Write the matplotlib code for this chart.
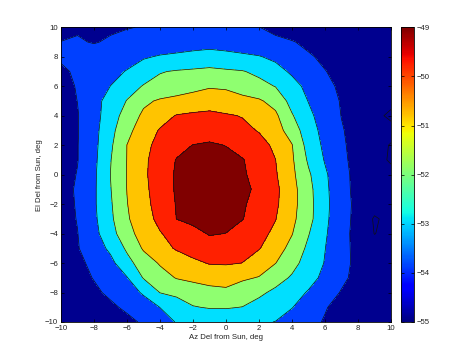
import numpy as np
import matplotlib
matplotlib.use("Agg")
import matplotlib.pyplot as plt
from matplotlib.colors import Normalize
import matplotlib.cm as cm

# Grid axes (degrees)
az = np.arange(-10, 11)
el = np.arange(-10, 11)

# Measured level (dB) on a 1-degree grid; rows listed from El=+10 down to El=-10,
# columns Az=-10 ... +10
rows_top_down = [
    [-54.40, -54.10, -54.50, -54.12, -54.03, -53.97, -53.93, -53.89, -53.84, -53.80, -53.86, -53.92, -53.98, -54.30, -54.70, -54.80, -54.80, -54.80, -54.80, -54.80, -54.80],  # el 10
    [-53.98, -53.92, -54.05, -53.90, -53.80, -53.70, -53.60, -53.55, -53.45, -53.40, -53.45, -53.55, -53.65, -53.75, -53.92, -54.28, -54.68, -54.80, -54.80, -54.80, -54.80],  # el 9
    [-53.85, -53.75, -53.60, -53.50, -53.35, -53.10, -52.92, -52.81, -52.70, -52.59, -52.71, -52.83, -52.95, -53.19, -53.53, -53.86, -54.24, -54.64, -54.80, -54.80, -54.80],  # el 8
    [-54.18, -53.84, -53.55, -53.26, -52.95, -52.50, -52.05, -51.93, -51.86, -51.79, -51.87, -51.95, -52.20, -52.68, -53.14, -53.55, -53.96, -54.36, -54.76, -54.80, -54.80],  # el 7
    [-54.34, -53.93, -53.47, -52.99, -52.41, -51.94, -51.73, -51.52, -51.31, -51.10, -51.14, -51.43, -51.72, -52.03, -52.68, -53.24, -53.73, -54.18, -54.58, -54.80, -54.80],  # el 6
    [-54.40, -53.99, -53.32, -52.64, -51.96, -51.19, -50.88, -50.72, -50.55, -50.39, -50.55, -50.72, -50.88, -51.33, -52.34, -53.03, -53.56, -54.07, -54.47, -54.80, -54.80],  # el 5
    [-54.45, -54.05, -53.34, -52.50, -51.57, -50.82, -50.36, -49.95, -49.85, -49.81, -49.91, -50.04, -50.43, -50.82, -51.92, -52.79, -53.44, -54.02, -54.42, -54.80, -55.15],  # el 4
    [-54.45, -54.05, -53.31, -52.29, -51.29, -50.47, -49.93, -49.73, -49.54, -49.35, -49.57, -49.80, -50.05, -50.59, -51.45, -52.58, -53.31, -53.93, -54.35, -54.75, -54.75],  # el 3
    [-54.43, -54.03, -53.27, -52.16, -50.99, -50.26, -49.72, -49.30, -48.98, -48.90, -49.02, -49.36, -49.71, -50.16, -50.96, -52.39, -53.20, -53.87, -54.32, -54.72, -55.05],  # el 2
    [-54.43, -54.03, -53.23, -52.04, -50.98, -50.20, -49.52, -48.96, -48.78, -48.60, -48.78, -48.95, -49.42, -49.99, -50.87, -52.14, -53.07, -53.81, -54.30, -54.70, -55.10],  # el 1
    [-54.38, -53.96, -53.17, -51.99, -50.96, -50.19, -49.44, -48.90, -48.65, -48.40, -48.64, -48.89, -49.31, -49.91, -50.78, -51.86, -52.85, -53.73, -54.27, -54.67, -54.75],  # el 0
    [-54.34, -53.89, -53.15, -52.04, -50.98, -50.25, -49.50, -48.90, -48.60, -48.30, -48.56, -48.81, -49.17, -49.79, -50.66, -51.71, -52.78, -53.70, -54.26, -54.66, -54.75],  # el -1
    [-54.36, -53.92, -53.14, -52.11, -51.03, -50.32, -49.59, -48.95, -48.67, -48.40, -48.65, -48.90, -49.32, -49.84, -50.67, -51.67, -52.75, -53.65, -54.23, -54.63, -54.75],  # el -2
    [-54.38, -53.96, -53.19, -52.19, -51.11, -50.42, -49.74, -48.99, -48.80, -48.60, -48.79, -48.97, -49.45, -49.97, -50.77, -51.69, -52.79, -53.68, -54.25, -55.10, -54.75],  # el -3
    [-54.42, -54.02, -53.28, -52.39, -51.33, -50.61, -50.06, -49.64, -49.24, -48.94, -49.01, -49.36, -49.73, -50.19, -50.96, -51.95, -52.88, -53.73, -54.27, -55.02, -54.75],  # el -4
    [-54.46, -54.06, -53.48, -52.81, -51.84, -50.89, -50.35, -49.91, -49.65, -49.39, -49.58, -49.77, -49.95, -50.54, -51.32, -52.20, -52.98, -53.72, -54.25, -54.65, -54.75],  # el -5
    [-54.62, -54.22, -53.77, -53.26, -52.33, -51.50, -50.91, -50.55, -50.18, -49.95, -49.90, -50.01, -50.49, -50.98, -51.70, -52.39, -53.05, -53.72, -54.23, -54.63, -54.75],  # el -6
    [-54.76, -54.36, -53.95, -53.50, -53.05, -51.94, -51.39, -50.95, -50.76, -50.58, -50.72, -50.87, -51.05, -51.63, -52.11, -52.67, -53.23, -53.81, -54.27, -54.67, -54.75],  # el -7
    [-54.80, -54.60, -54.20, -53.79, -53.38, -52.90, -51.98, -51.77, -51.56, -51.36, -51.15, -51.48, -51.82, -52.20, -52.63, -53.08, -53.58, -54.06, -54.46, -54.80, -54.80],  # el -8
    [-54.80, -54.80, -54.60, -54.20, -53.80, -53.40, -52.99, -52.52, -52.05, -51.94, -51.93, -52.02, -52.33, -52.65, -52.97, -53.44, -53.93, -54.34, -54.74, -54.80, -54.80],  # el -9
    [-54.80, -54.80, -54.80, -54.68, -54.28, -53.85, -53.35, -52.96, -52.81, -52.67, -52.66, -52.77, -52.89, -53.02, -53.37, -53.72, -54.08, -54.48, -54.80, -54.80, -54.80],  # el -10
]
Z = np.array(rows_top_down)[::-1]

line_levels = [-55, -54, -53, -52, -51, -50, -49]
fill_levels = [-60, -54, -53, -52, -51, -50, -49, -40]
band_colors = ['#00008F', '#0040FF', '#00DFFF', '#8FFF70', '#FFC400', '#FF2000', '#800000']
cbar_ticks = [-55, -54, -53, -52, -51, -50, -49]
xticks = list(range(-10, 11, 2))
yticks = list(range(-10, 11, 2))

plt.rcParams['font.family'] = ['Liberation Sans', 'DejaVu Sans']
FS = 5.6
TXT = '#222222'

fig = plt.figure(figsize=(4.70, 3.62), dpi=100)
ax = fig.add_axes([0.1298, 0.1105, 0.7021, 0.8141])
ax.contourf(az, el, Z, levels=fill_levels, colors=band_colors)
ax.contour(az, el, Z, levels=line_levels, colors='#111111', linewidths=0.5,
           linestyles='solid')
ax.set_xlim(-10, 10)
ax.set_ylim(-10, 10)
ax.set_xticks(xticks)
ax.set_yticks(yticks)
ax.tick_params(direction='in', length=2.5, width=0.5, top=True, right=True,
               labelsize=FS, labelcolor=TXT)
ax.tick_params(axis='x', pad=2.2)
ax.tick_params(axis='y', pad=2.0)
for s in ax.spines.values():
    s.set_linewidth(0.6)
ax.set_xlabel('Az Del from Sun, deg', fontsize=FS, color=TXT, labelpad=1.2)
ax.set_ylabel('El Del from Sun, deg', fontsize=FS, color=TXT, labelpad=1.5)

cax = fig.add_axes([0.8532, 0.1105, 0.0283, 0.8141])
sm = cm.ScalarMappable(norm=Normalize(-55, -49), cmap='jet')
cb = fig.colorbar(sm, cax=cax, ticks=cbar_ticks)
cb.ax.tick_params(direction='in', length=2.5, width=0.5, left=True, right=True,
                  labelsize=FS, labelcolor=TXT, pad=1.5)
cb.outline.set_linewidth(0.6)

fig.savefig('out.png', dpi=100)
